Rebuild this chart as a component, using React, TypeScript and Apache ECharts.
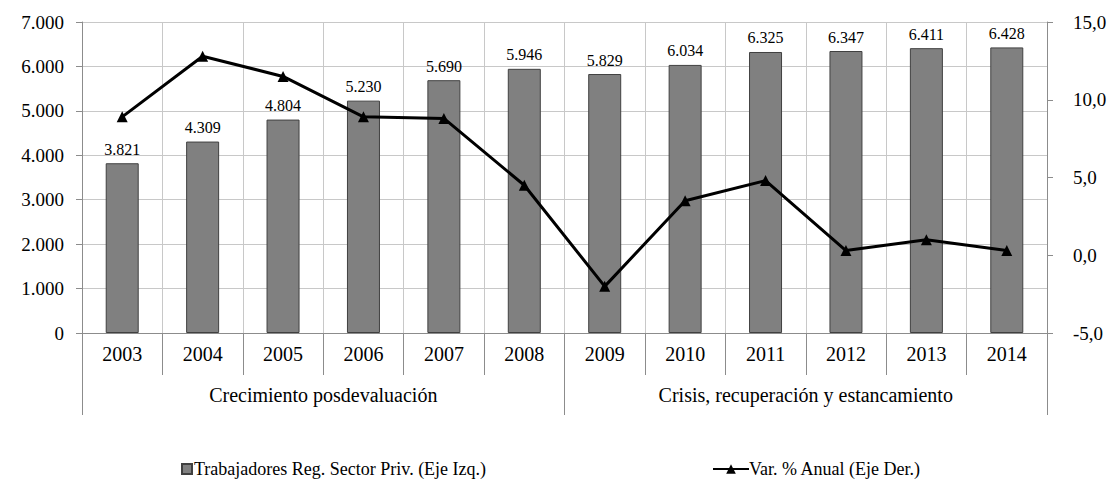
import React, { useEffect, useRef } from "react";
import * as echarts from "echarts";

const years = ["2003", "2004", "2005", "2006", "2007", "2008", "2009", "2010", "2011", "2012", "2013", "2014"];
const groups = ["Crecimiento posdevaluación", "Crisis, recuperación y estancamiento"];
const workers = [3821, 4309, 4804, 5230, 5690, 5946, 5829, 6034, 6325, 6347, 6411, 6428];
const varAnual = [8.9, 12.8, 11.5, 8.9, 8.8, 4.5, -2.0, 3.5, 4.8, 0.3, 1.0, 0.3];
const barName = "Trabajadores Reg. Sector Priv. (Eje Izq.)";
const lineName = "Var. % Anual (Eje Der.)";

const FONT = "Liberation Serif";

const fmtThousands = (v: number) => {
  const s = Math.round(v).toString();
  return s.replace(/\B(?=(\d{3})+(?!\d))/g, ".");
};
const fmtDec = (v: number) => v.toFixed(1).replace(".", ",");

export default function App() {
  const ref = useRef<HTMLDivElement>(null);
  useEffect(() => {
    if (!ref.current) return;
    const chart = echarts.init(ref.current, undefined, { renderer: "svg" });
    const axisColor = "#8c8c8c";
    const gridColor = "#c8c8c8";
    chart.setOption({
      animation: false,
      backgroundColor: "#ffffff",
      textStyle: { fontFamily: FONT, color: "#000" },
      grid: { left: 82, right: 71, top: 22, bottom: 158, containLabel: false },
      legend: [
        {
          data: [{ name: barName, icon: "rect" }],
          left: 176,
          top: 455,
          itemWidth: 10,
          itemHeight: 10,
          textStyle: { fontFamily: FONT, fontSize: 18, color: "#000", padding: [0, 0, 0, -3] },
        },
        {
          data: [{ name: lineName }],
          left: 707,
          top: 455,
          itemWidth: 36,
          itemHeight: 12,
          textStyle: { fontFamily: FONT, fontSize: 18, color: "#000", padding: [0, 0, 0, -5] },
        },
      ],
      xAxis: [
        {
          type: "category",
          data: years,
          position: "bottom",
          boundaryGap: true,
          axisLine: { show: true, onZero: false, lineStyle: { color: axisColor, width: 1 } },
          axisTick: { show: true, interval: 0, length: 42, lineStyle: { color: axisColor } },
          axisLabel: { interval: 0, fontFamily: FONT, fontSize: 20, color: "#000", margin: 11 },
          splitLine: { show: true, interval: 0, lineStyle: { color: gridColor, width: 1 } },
        },
        {
          type: "category",
          data: groups,
          position: "bottom",
          offset: 42,
          boundaryGap: true,
          axisLine: { show: true, onZero: false, lineStyle: { color: "rgba(0,0,0,0)", width: 0 } },
          axisTick: { show: true, interval: 0, length: 40, lineStyle: { color: axisColor, width: 1 } },
          axisLabel: { interval: 0, fontFamily: FONT, fontSize: 20, color: "#000", margin: 10 },
          splitLine: { show: false },
        },
      ],
      yAxis: [
        {
          type: "value",
          min: 0,
          max: 7000,
          interval: 1000,
          position: "left",
          axisLine: { show: true, lineStyle: { color: axisColor } },
          axisTick: { show: true, length: 6, lineStyle: { color: axisColor } },
          axisLabel: { fontFamily: FONT, fontSize: 19, color: "#000", margin: 18, formatter: (v: number) => fmtThousands(v) },
          splitLine: { show: true, lineStyle: { color: gridColor, width: 1 } },
        },
        {
          type: "value",
          min: -5,
          max: 15,
          interval: 5,
          position: "right",
          axisLine: { show: true, lineStyle: { color: axisColor } },
          axisTick: { show: true, length: 6, lineStyle: { color: axisColor } },
          axisLabel: { fontFamily: FONT, fontSize: 19, color: "#000", margin: 26, formatter: (v: number) => fmtDec(v) },
          splitLine: { show: false },
        },
      ],
      series: [
        {
          name: barName,
          type: "bar",
          xAxisIndex: 0,
          yAxisIndex: 0,
          data: workers,
          barWidth: 33,
          itemStyle: { color: "#808080", borderColor: "#404040", borderWidth: 1 },
          label: {
            show: true,
            position: "top",
            distance: 6,
            fontFamily: FONT,
            fontSize: 16,
            color: "#000",
            formatter: (p: any) => fmtThousands(p.value),
          },
          z: 2,
        },
        {
          name: lineName,
          type: "line",
          xAxisIndex: 0,
          yAxisIndex: 1,
          data: varAnual,
          symbol: "triangle",
          symbolSize: 11,
          lineStyle: { color: "#000", width: 3 },
          itemStyle: { color: "#000" },
          z: 3,
        },
      ],
    });
    return () => chart.dispose();
  }, []);
  return <div ref={ref} style={{ position: "fixed", left: 0, top: 0, width: 1118, height: 491 }} />;
}
